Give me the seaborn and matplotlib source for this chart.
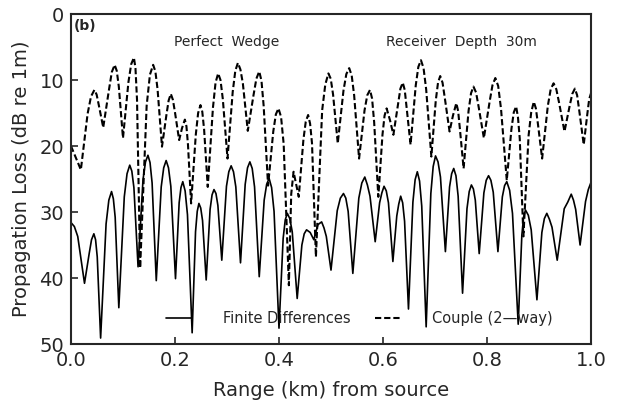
import numpy as np
import pandas as pd
import seaborn as sns
import matplotlib
matplotlib.use("Agg")
import matplotlib.pyplot as plt

# ---- data (range in km, loss in dB) ----
fd_range = [0.000, 0.0065, 0.013, 0.026, 0.035, 0.0395, 0.044, 0.0473, 0.0505, 0.057,
            0.0675, 0.0728, 0.078, 0.0815, 0.085, 0.092, 0.1025, 0.1078, 0.113, 0.117,
            0.121, 0.129, 0.1385, 0.1433, 0.148, 0.152, 0.156, 0.164, 0.1735, 0.1783,
            0.183, 0.1875, 0.192, 0.201, 0.208, 0.2115, 0.215, 0.2195, 0.224, 0.233,
            0.2395, 0.2428, 0.246, 0.2495, 0.253, 0.260, 0.2675, 0.2713, 0.275, 0.2788,
            0.2825, 0.290, 0.299, 0.3035, 0.308, 0.3125, 0.317, 0.326, 0.335, 0.3395,
            0.344, 0.3485, 0.353, 0.362, 0.3715, 0.3763, 0.381, 0.3858, 0.3905, 0.400,
            0.408, 0.412, 0.416, 0.4208, 0.4255, 0.435, 0.444, 0.4485, 0.453, 0.460,
            0.467, 0.475, 0.482, 0.4865, 0.491, 0.500, 0.512, 0.518, 0.524, 0.5285,
            0.533, 0.542, 0.5535, 0.5593, 0.565, 0.570, 0.575, 0.585, 0.5935, 0.5978,
            0.602, 0.6063, 0.6105, 0.619, 0.6265, 0.6303, 0.634, 0.6378, 0.6415, 0.649,
            0.6575, 0.6618, 0.666, 0.6703, 0.6745, 0.683, 0.692, 0.6965, 0.701, 0.7058,
            0.7105, 0.720, 0.728, 0.732, 0.736, 0.7403, 0.7445, 0.753, 0.7615, 0.7658,
            0.770, 0.7738, 0.7775, 0.785, 0.794, 0.7985, 0.803, 0.8075, 0.812, 0.821,
            0.8295, 0.8338, 0.838, 0.8435, 0.849, 0.860, 0.867, 0.8705, 0.874, 0.8795,
            0.885, 0.896, 0.9055, 0.9103, 0.915, 0.920, 0.925, 0.935, 0.9485, 0.9553,
            0.962, 0.9663, 0.9705, 0.979, 0.9895, 0.9948, 1.000]
fd_loss = [31.6, 32.2, 33.7, 40.8, 36.3, 34.2, 33.3, 34.2, 36.8, 49.1,
           31.8, 28.2, 26.9, 28.0, 30.8, 44.5, 27.7, 24.2, 22.9, 23.8,
           26.3, 38.3, 25.1, 22.4, 21.4, 22.5, 25.6, 40.4, 26.2, 23.3,
           22.2, 23.3, 26.1, 40.1, 28.6, 26.3, 25.4, 26.8, 30.4, 48.3,
           33.0, 29.9, 28.7, 29.4, 31.3, 40.3, 29.6, 27.4, 26.6, 27.2,
           29.0, 37.3, 26.1, 23.9, 23.0, 23.9, 26.2, 37.7, 25.8, 23.3,
           22.4, 23.4, 26.2, 39.8, 28.2, 25.8, 24.9, 26.3, 29.9, 47.6,
           34.0, 31.2, 30.2, 31.0, 33.0, 43.1, 35.0, 33.3, 32.7, 33.1,
           34.2, 31.9, 31.5, 32.4, 33.7, 38.8, 29.8, 27.9, 27.2, 27.9,
           29.9, 39.3, 27.9, 25.6, 24.7, 25.9, 27.6, 34.5, 28.6, 27.1,
           26.1, 26.8, 28.6, 37.5, 30.6, 28.8, 27.6, 28.6, 31.4, 44.7,
           28.5, 25.1, 23.9, 25.3, 29.1, 47.4, 27.2, 23.1, 21.5, 22.4,
           24.7, 36.0, 26.2, 24.2, 23.4, 24.5, 27.6, 42.3, 29.5, 26.9,
           25.9, 26.5, 28.2, 36.3, 27.1, 25.2, 24.5, 25.2, 27.0, 36.0,
           27.7, 26.0, 25.4, 26.7, 30.2, 47.0, 33.5, 30.7, 29.7, 30.5,
           32.7, 43.3, 33.1, 31.0, 30.2, 31.1, 32.3, 37.3, 29.5, 28.5,
           27.3, 28.2, 29.6, 35.0, 28.4, 26.6, 25.5]

cp_range = [0.000, 0.0095, 0.019, 0.032, 0.0385, 0.045, 0.0493, 0.0535, 0.062, 0.073,
            0.0785, 0.084, 0.088, 0.092, 0.100, 0.1105, 0.1158, 0.121, 0.124, 0.127,
            0.133, 0.1455, 0.1518, 0.158, 0.1623, 0.1665, 0.175, 0.1835, 0.1878, 0.192,
            0.196, 0.200, 0.208, 0.2135, 0.219, 0.222, 0.225, 0.231, 0.240, 0.2445,
            0.249, 0.2525, 0.256, 0.263, 0.273, 0.278, 0.283, 0.2875, 0.292, 0.301,
            0.311, 0.316, 0.321, 0.3258, 0.3305, 0.340, 0.351, 0.3565, 0.362, 0.3663,
            0.3705, 0.379, 0.389, 0.394, 0.399, 0.404, 0.409, 0.419, 0.4235, 0.428,
            0.433, 0.438, 0.447, 0.4515, 0.456, 0.4598, 0.4635, 0.471, 0.483, 0.489,
            0.495, 0.4995, 0.504, 0.513, 0.524, 0.5295, 0.535, 0.5398, 0.5445, 0.554,
            0.5645, 0.5698, 0.575, 0.579, 0.583, 0.591, 0.599, 0.603, 0.607, 0.6135,
            0.620, 0.629, 0.6335, 0.638, 0.6418, 0.6455, 0.653, 0.663, 0.668, 0.673,
            0.678, 0.683, 0.693, 0.7015, 0.7058, 0.710, 0.7145, 0.719, 0.728, 0.7345,
            0.741, 0.7445, 0.748, 0.755, 0.7645, 0.7693, 0.774, 0.779, 0.784, 0.794,
            0.805, 0.8105, 0.816, 0.8215, 0.827, 0.838, 0.847, 0.8515, 0.856, 0.8595,
            0.863, 0.870, 0.880, 0.885, 0.890, 0.894, 0.898, 0.906, 0.917, 0.9225,
            0.928, 0.9333, 0.9385, 0.949, 0.959, 0.964, 0.969, 0.9733, 0.9775, 0.986,
            0.993, 0.9965, 1.000]
cp_loss = [20.0, 21.8, 23.6, 15.1, 12.5, 11.5, 12.2, 13.8, 17.2, 11.5,
           8.8, 7.7, 8.6, 11.0, 18.8, 10.3, 7.6, 6.6, 8.2, 13.0,
           38.5, 13.9, 9.2, 7.7, 8.7, 11.4, 20.1, 15.3, 13.1, 12.1,
           13.0, 14.9, 19.1, 17.3, 16.0, 17.0, 19.8, 28.7, 18.3, 15.0,
           13.8, 14.8, 17.5, 26.2, 14.2, 10.4, 9.0, 10.0, 12.9, 21.9,
           11.8, 8.6, 7.4, 8.4, 10.5, 17.7, 12.3, 9.8, 8.7, 10.1,
           13.9, 26.0, 17.8, 15.2, 14.3, 15.6, 19.7, 41.1, 27.3, 23.9,
           25.8, 27.7, 19.0, 16.3, 15.3, 16.6, 19.6, 36.8, 14.6, 10.7,
           9.0, 9.8, 12.2, 19.6, 11.6, 9.1, 8.2, 9.3, 12.3, 21.9,
           14.6, 12.3, 11.5, 12.8, 16.4, 27.7, 18.3, 15.4, 14.3, 16.1,
           18.3, 13.6, 11.3, 10.4, 11.5, 14.2, 19.8, 10.8, 8.0, 7.0,
           8.2, 11.4, 21.6, 13.1, 10.4, 9.4, 10.4, 12.8, 17.8, 15.4,
           13.5, 14.7, 17.5, 23.4, 14.7, 12.0, 11.0, 11.9, 14.1, 18.8,
           13.3, 10.8, 9.7, 10.9, 14.4, 25.2, 17.4, 14.9, 14.0, 15.6,
           18.9, 33.7, 18.4, 14.9, 13.3, 14.3, 16.7, 21.9, 13.9, 11.4,
           10.5, 11.4, 13.4, 17.8, 13.9, 12.1, 11.3, 12.3, 14.7, 19.8,
           15.1, 12.9, 12.0]

x_ticks = [0.0, 0.2, 0.4, 0.6, 0.8, 1.0]
y_ticks = [0, 10, 20, 30, 40, 50]
series_names = ["Finite Differences", "Couple (2\u2014way)"]

sns.set_style("ticks")
plt.rcParams['font.family'] = ['DejaVu Sans']

fig = plt.figure(figsize=(6.21, 4.05), dpi=100)
ax = fig.add_axes([0.1143, 0.1506, 0.8374, 0.8148])

df_fd = pd.DataFrame({"range": fd_range, "loss": fd_loss})
df_cp = pd.DataFrame({"range": cp_range, "loss": cp_loss})

sns.lineplot(data=df_fd, x="range", y="loss", ax=ax, color="black",
             linewidth=1.2, estimator=None, sort=False, label=series_names[0])
sns.lineplot(data=df_cp, x="range", y="loss", ax=ax, color="black",
             linewidth=1.5, estimator=None, sort=False, label=series_names[1])
ax.lines[1].set_dashes((3.0, 1.4))

ax.set_xlim(0, 1.0)
ax.set_ylim(50, 0)
ax.set_xticks(x_ticks)
ax.set_xticklabels([f"{v:.1f}" for v in x_ticks])
ax.set_yticks(y_ticks)
ax.set_yticklabels([str(v) for v in y_ticks])
ax.tick_params(direction="in", length=5, width=1.2, labelsize=14)
ax.tick_params(axis="x", pad=5)
ax.tick_params(axis="y", pad=5)
for s in ax.spines.values():
    s.set_visible(True)
    s.set_linewidth(1.5)

ax.set_xlabel("Range (km) from source", fontsize=14, labelpad=8)
ax.set_ylabel("Propagation Loss (dB re 1m)", fontsize=14, labelpad=6)

ax.text(0.005, 0.985, "(b)", transform=ax.transAxes, fontsize=10,
        fontweight="bold", va="top", ha="left")
ax.text(0.30, 0.915, "Perfect  Wedge", transform=ax.transAxes, fontsize=10,
        va="center", ha="center")
ax.text(0.75, 0.915, "Receiver  Depth  30m", transform=ax.transAxes, fontsize=10,
        va="center", ha="center")

leg = ax.legend(loc="center", bbox_to_anchor=(0.554, 0.078), ncol=2,
                frameon=False, fontsize=10.5, handlelength=1.8,
                handletextpad=2.1, columnspacing=1.7)
for line in leg.get_lines():
    line.set_color("black")

fig.savefig("out.png", dpi=100)
